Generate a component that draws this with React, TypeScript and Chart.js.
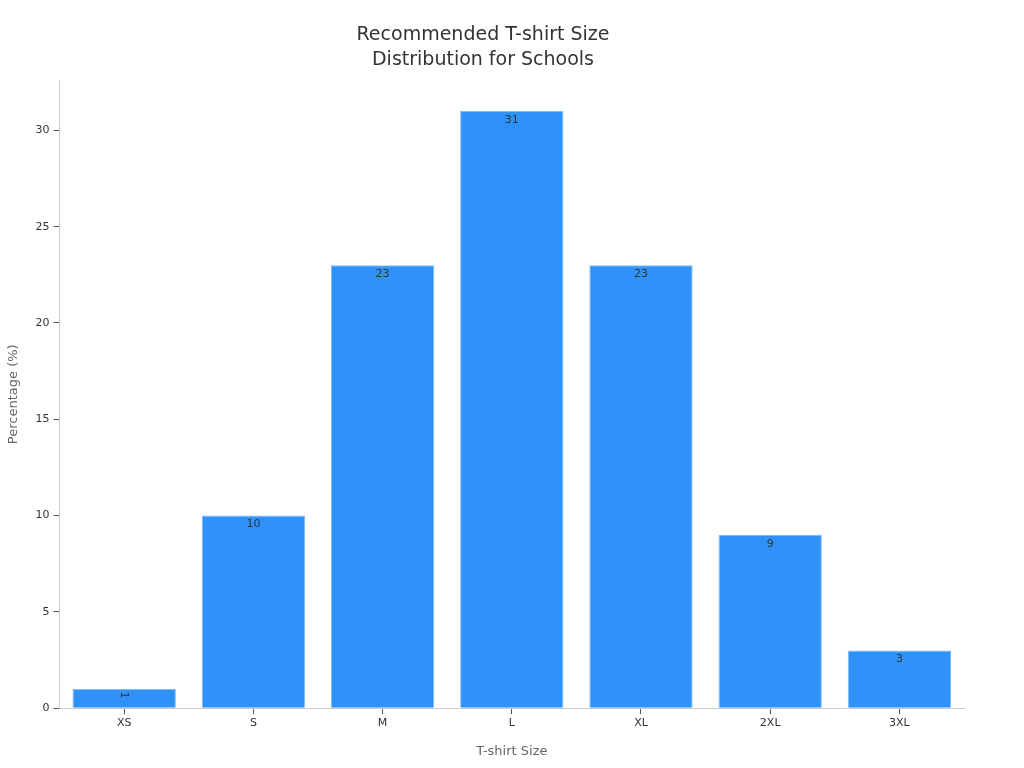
import React, { useEffect, useRef } from "react";
import Chart from "chart.js/auto";

const sizes = ["XS", "S", "M", "L", "XL", "2XL", "3XL"];
const percentages = [1, 10, 23, 31, 23, 9, 3];
const yTicks = [0, 5, 10, 15, 20, 25, 30];

const FONT = "'DejaVu Sans', 'Noto Sans', sans-serif";

// draws each value just inside the top of its bar; turns it sideways when the bar is too short
const barLabels = {
  id: "barLabels",
  afterDatasetsDraw(chart: any) {
    const ctx = chart.ctx;
    const meta = chart.getDatasetMeta(0);
    ctx.save();
    ctx.font = `11px ${FONT}`;
    ctx.fillStyle = "#333333";
    ctx.textAlign = "center";
    ctx.textBaseline = "middle";
    meta.data.forEach((bar: any, i: number) => {
      const text = String(percentages[i]);
      const h = bar.base - bar.y;
      if (h < 24) {
        ctx.save();
        ctx.translate(bar.x, bar.y + 6);
        ctx.rotate(Math.PI / 2);
        ctx.fillText(text, 0, 0);
        ctx.restore();
      } else {
        ctx.fillText(text, bar.x, bar.y + 9);
      }
    });
    ctx.restore();
  },
};

const App = () => {
  const chartRef = useRef<HTMLCanvasElement | null>(null);

  useEffect(() => {
    document.body.style.margin = "0";
    const ctx = chartRef.current?.getContext("2d");
    if (!ctx) return;

    const chart = new Chart(ctx, {
      type: "bar",
      data: {
        labels: sizes,
        datasets: [
          {
            label: "Percentage",
            data: percentages,
            backgroundColor: "#2f92f8",
            borderColor: "#7cbcf9",
            borderWidth: 1,
            barPercentage: 0.8,
            categoryPercentage: 1,
          },
        ],
      },
      options: {
        animation: false,
        responsive: true,
        maintainAspectRatio: false,
        layout: { padding: { left: 2, right: 60, top: 14, bottom: 5 } },
        plugins: {
          legend: { display: false },
          tooltip: { enabled: false },
          title: {
            display: true,
            text: ["Recommended T-shirt Size", "Distribution for Schools"],
            color: "#333333",
            font: { family: FONT, size: 19, weight: "normal", lineHeight: 1.35 },
            padding: { top: 8, bottom: 7 },
          },
        },
        scales: {
          x: {
            grid: {
              display: true,
              offset: false,
              drawOnChartArea: false,
              drawTicks: true,
              tickLength: 6,
              tickColor: "#555555",
            },
            border: { color: "#cccccc" },
            ticks: { color: "#333333", font: { family: FONT, size: 11 }, padding: 2 },
            title: {
              display: true,
              text: "T-shirt Size",
              color: "#666666",
              font: { family: FONT, size: 13 },
              padding: { top: 12 },
            },
          },
          y: {
            min: 0,
            max: 32.6,
            afterBuildTicks: (axis: any) => {
              axis.ticks = yTicks.map((v) => ({ value: v }));
            },
            grid: {
              display: true,
              drawOnChartArea: false,
              drawTicks: true,
              tickLength: 6,
              tickColor: "#555555",
            },
            border: { color: "#cccccc" },
            ticks: { color: "#333333", font: { family: FONT, size: 11 }, padding: 4 },
            title: {
              display: true,
              text: "Percentage (%)",
              color: "#666666",
              font: { family: FONT, size: 13 },
              padding: { bottom: 10 },
            },
          },
        },
      },
      plugins: [barLabels],
    });

    return () => {
      chart.destroy();
    };
  }, []);

  return (
    <div style={{ width: 1024, height: 768, position: "relative" }}>
      <canvas ref={chartRef} />
    </div>
  );
};

export default App;
